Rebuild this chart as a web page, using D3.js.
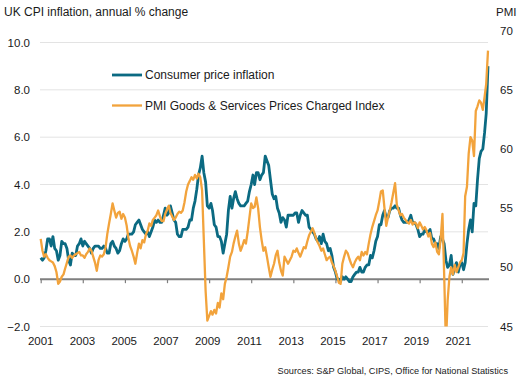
<!DOCTYPE html>
<html><head><meta charset="utf-8">
<script src="https://cdn.jsdelivr.net/npm/d3@7/dist/d3.min.js"></script>
<style>
body{margin:0;background:#fff}
text{font-family:"Liberation Sans",Arial,Helvetica,sans-serif;fill:#1a1a1a}
</style>
</head><body>
<svg id="chart" width="532" height="380"></svg>
<script>
// ---------- DATA ----------
const startYear = 2001; // monthly series from Jan 2001 to Apr 2022
const cpiValues = [
 0.9,0.8,0.9,1.2,1.7,1.7,1.4,1.8,1.3,1.2,0.8,1.0,
 1.6,1.5,1.5,1.3,0.8,0.6,1.1,1.0,1.0,1.4,1.5,1.7,
 1.4,1.6,1.5,1.4,1.3,1.1,1.3,1.4,1.4,1.4,1.3,1.3,
 1.4,1.3,1.1,1.1,1.5,1.6,1.4,1.3,1.1,1.2,1.5,1.7,
 1.6,1.7,1.9,1.9,1.9,2.0,2.3,2.4,2.5,2.3,2.1,2.0,
 1.9,2.0,1.8,2.0,2.2,2.5,2.4,2.5,2.4,2.4,2.7,3.0,
 2.7,2.8,3.1,2.8,2.5,2.4,1.9,1.8,1.8,2.1,2.1,2.1,
 2.2,2.5,2.5,3.0,3.3,3.8,4.4,4.7,5.2,4.5,4.1,3.1,
 3.0,3.2,2.9,2.3,2.2,1.8,1.8,1.6,1.1,1.5,1.9,2.9,
 3.5,3.0,3.4,3.7,3.4,3.2,3.1,3.1,3.1,3.2,3.3,3.7,
 4.0,4.4,4.0,4.5,4.5,4.2,4.4,4.5,5.2,5.0,4.8,4.2,
 3.6,3.4,3.5,3.0,2.8,2.4,2.6,2.5,2.2,2.7,2.7,2.7,
 2.7,2.8,2.8,2.4,2.7,2.9,2.8,2.7,2.7,2.2,2.1,2.0,
 1.9,1.7,1.6,1.8,1.5,1.9,1.6,1.5,1.2,1.3,1.0,0.5,
 0.3,0.0,0.0,-0.1,0.1,0.0,0.1,0.0,-0.1,-0.1,0.1,0.2,
 0.3,0.3,0.5,0.3,0.3,0.5,0.6,0.6,1.0,0.9,1.2,1.6,
 1.8,2.3,2.3,2.7,2.9,2.6,2.6,2.9,3.0,3.0,3.1,3.0,
 3.0,2.7,2.5,2.4,2.4,2.4,2.5,2.7,2.4,2.4,2.3,2.1,
 1.8,1.9,1.9,2.1,2.0,2.0,2.1,1.7,1.7,1.5,1.5,1.3,
 1.8,1.7,1.5,0.8,0.5,0.6,1.0,0.2,0.5,0.7,0.3,0.6,
 0.7,0.4,0.7,1.5,2.1,2.5,2.0,3.2,3.1,4.2,5.1,5.4,
 5.5,6.2,7.0,9.0
];
const pmiValues = [
 52.4,51.4,50.9,51.1,50.8,50.6,50.5,50.4,50.1,49.6,48.6,48.8,
 49.2,49.4,49.9,50.4,50.9,51.0,50.8,51.0,51.1,51.2,51.3,51.0,
 51.0,50.8,51.1,51.3,51.6,51.4,50.9,50.4,49.7,50.6,51.0,50.9,
 51.1,51.7,52.8,53.7,54.5,55.4,54.8,54.2,54.6,54.7,54.1,54.5,
 54.2,53.5,52.5,51.8,51.4,50.9,50.3,51.2,52.0,51.6,52.3,52.1,
 52.8,53.1,53.7,53.5,54.0,54.2,54.4,54.8,54.3,53.9,53.9,54.5,
 54.9,55.2,54.6,54.3,54.0,54.2,54.5,54.7,54.6,54.8,55.5,56.4,
 57.0,57.3,57.6,57.4,57.8,57.5,57.9,57.6,56.5,52.3,48.0,45.5,
 45.9,46.3,46.0,46.4,46.1,47.0,46.6,47.8,47.3,48.6,49.2,50.0,
 50.9,51.3,52.0,52.6,53.1,52.0,51.4,51.8,52.3,52.0,53.0,54.2,
 55.4,55.0,55.1,55.9,55.0,53.4,52.3,51.4,51.7,50.9,50.0,49.2,
 49.8,50.3,51.0,51.4,50.4,49.7,49.3,50.9,50.6,50.3,50.6,50.9,
 51.4,51.3,51.6,51.2,50.9,51.3,51.7,51.6,52.2,52.7,53.0,53.3,
 52.9,52.4,52.1,51.8,51.4,51.6,51.1,50.6,50.8,50.9,50.4,50.1,
 49.7,49.2,48.7,48.6,50.3,50.9,51.4,51.2,50.7,50.3,50.0,50.4,
 50.7,50.9,50.6,51.3,51.0,51.3,51.1,52.0,52.8,53.4,53.9,54.4,
 54.8,55.6,56.4,56.5,55.0,53.5,54.2,54.8,55.5,56.3,57.1,55.3,
 54.8,54.4,54.5,54.2,54.0,53.8,53.7,54.0,53.6,53.8,53.7,53.3,
 53.8,53.5,53.2,53.4,53.1,52.6,52.9,52.0,51.7,52.1,51.3,51.1,
 52.4,54.5,49.5,43.5,47.2,49.2,50.0,49.4,50.2,49.6,50.0,50.4,
 50.6,51.2,56.0,56.8,59.6,61.0,60.7,59.4,63.2,63.6,64.1,63.9,
 63.3,64.4,65.5,68.3
];
const leftTicks = [-2, 0, 2, 4, 6, 8, 10];
const rightTicks = [45, 50, 55, 60, 65, 70];
const yearTicks = [2001, 2003, 2005, 2007, 2009, 2011, 2013, 2015, 2017, 2019, 2021];
const seriesNames = ["Consumer price inflation", "PMI Goods & Services Prices Charged Index"];
const seriesColors = ["#0b6a82", "#f2a33c"];
const titleText = "UK CPI inflation, annual % change";
const rightTitle = "PMI";
const sourceText = "Sources: S&P Global, CIPS, Office for National Statistics";

// ---------- LAYOUT ----------
const svg = d3.select("#chart");
const plotL = 40.7, plotR = 488, plotTop = 30.5, plotBot = 326.5;
const dates = cpiValues.map((_, i) => new Date(startYear, i, 1));

const x = d3.scaleTime()
  .domain([new Date(startYear, 0, 1), dates[dates.length - 1]])
  .range([plotL, plotR]);
const yL = d3.scaleLinear().domain([-2, 10]).range([plotBot, 42.5]);
const yR = d3.scaleLinear().domain([45, 70]).range([plotBot, plotTop]);

// gridlines
svg.append("g").selectAll("line")
  .data(leftTicks.filter(d => d !== 0))
  .join("line")
  .attr("x1", 40).attr("x2", plotR)
  .attr("y1", d => yL(d)).attr("y2", d => yL(d))
  .attr("stroke", "#e3e3e3").attr("stroke-width", 1);

// left axis labels
svg.append("g").selectAll("text")
  .data(leftTicks)
  .join("text")
  .attr("x", 30).attr("y", d => yL(d))
  .attr("dy", "0.36em")
  .attr("text-anchor", "end")
  .attr("font-size", 11.5)
  .text(d => d3.format(".1f")(d));

// right axis labels
svg.append("g").selectAll("text")
  .data(rightTicks)
  .join("text")
  .attr("x", 500).attr("y", d => yR(d))
  .attr("dy", "0.36em")
  .attr("font-size", 11.5)
  .text(d => d);

// clip
svg.append("clipPath").attr("id", "clip")
  .append("rect").attr("x", 0).attr("y", 0).attr("width", 532).attr("height", plotBot);

// zero axis with ticks
const xAxis = d3.axisBottom(x)
  .tickValues(yearTicks.map(y => new Date(y, 0, 1)))
  .tickSize(4)
  .tickFormat("");
const axG = svg.append("g").attr("transform", `translate(0,${yL(0)})`).call(xAxis);
axG.select(".domain").attr("d", `M40,0H489`).attr("stroke", "#7f7f7f").attr("stroke-width", 2);
axG.selectAll(".tick line").attr("stroke", "#7f7f7f").attr("stroke-width", 1.2);

// year labels
svg.append("g").selectAll("text")
  .data(yearTicks)
  .join("text")
  .attr("x", (d, i) => x(new Date(d, 0, 1)) - i * 0.35)
  .attr("y", 341)
  .attr("dy", "0.36em")
  .attr("text-anchor", "middle")
  .attr("font-size", 11.5)
  .text(d => d);

// lines
const cpiLine = d3.line().x((d, i) => x(dates[i])).y(d => yL(d));
const pmiLine = d3.line().x((d, i) => x(dates[i])).y(d => yR(d));

svg.append("path").datum(cpiValues)
  .attr("d", cpiLine)
  .attr("fill", "none").attr("stroke", seriesColors[0])
  .attr("stroke-width", 2.8).attr("stroke-linejoin", "round");

svg.append("path").datum(pmiValues)
  .attr("clip-path", "url(#clip)")
  .attr("d", pmiLine)
  .attr("fill", "none").attr("stroke", seriesColors[1])
  .attr("stroke-width", 2.3).attr("stroke-linejoin", "round");

// legend
const leg = svg.append("g");
seriesNames.forEach((name, i) => {
  const ly = 75 + i * 30.5;
  leg.append("line").attr("x1", 112).attr("x2", 142).attr("y1", ly).attr("y2", ly)
    .attr("stroke", seriesColors[i]).attr("stroke-width", i === 0 ? 2.8 : 2.3);
  leg.append("text").attr("x", 145).attr("y", ly).attr("dy", "0.36em")
    .attr("font-size", 12).text(name);
});

// titles
svg.append("text").attr("x", 4).attr("y", 12).attr("dy", "0.36em")
  .attr("font-size", 12).text(titleText);
svg.append("text").attr("x", 496).attr("y", 12).attr("dy", "0.36em")
  .attr("font-size", 11.5).text(rightTitle);
svg.append("text").attr("x", 508).attr("y", 371).attr("dy", "0.36em")
  .attr("text-anchor", "end").attr("font-size", 9.2).text(sourceText);
</script>
</body></html>
